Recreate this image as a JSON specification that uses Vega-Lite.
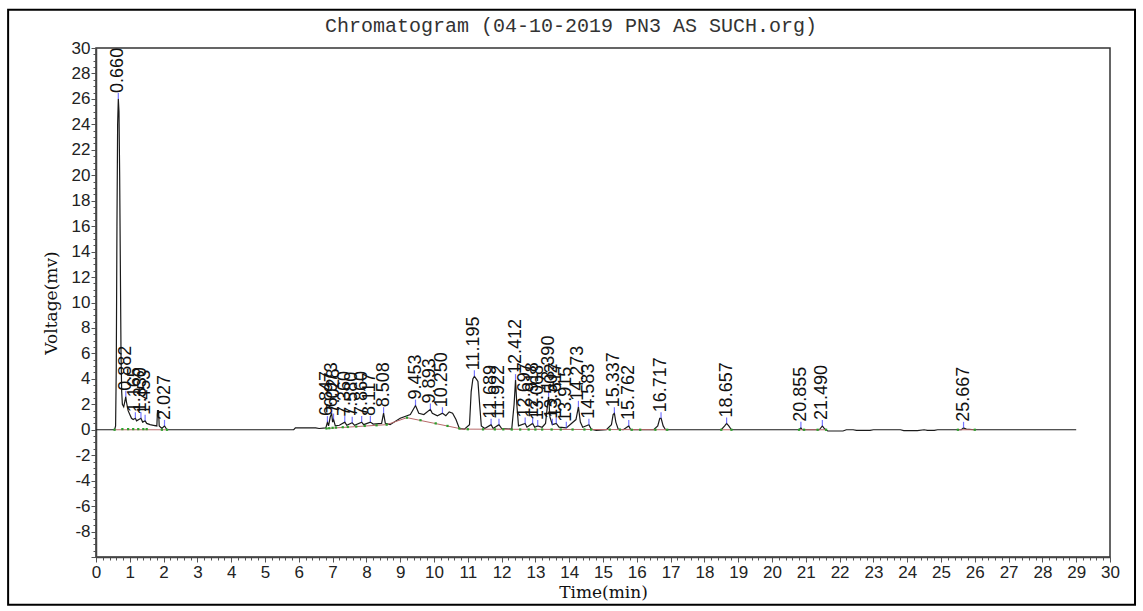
{
  "$schema": "https://vega.github.io/schema/vega-lite/v6.json",
  "width": 1014,
  "height": 509,
  "autosize": {"type": "none"},
  "padding": {"left": 96, "top": 48, "right": 33, "bottom": 54},
  "background": "white",
  "title": {
    "text": "Chromatogram (04-10-2019 PN3 AS SUCH.org)",
    "font": "Liberation Mono",
    "fontSize": 20,
    "fontWeight": "normal",
    "color": "#333",
    "dx": -32,
    "offset": -27
  },
  "config": {
    "view": {"stroke": "#333", "strokeWidth": 1.5},
    "axis": {
      "grid": false,
      "domainColor": "#444",
      "domainWidth": 1.5,
      "tickColor": "#555",
      "labelFont": "Liberation Sans",
      "labelFontSize": 17,
      "labelColor": "#222",
      "titleFont": "DejaVu Serif",
      "titleFontSize": 16,
      "titleFontWeight": "normal",
      "titleColor": "#111",
      "labelOverlap": false,
      "labelFlush": false
    }
  },
  "datasets": {
    "signal": [
      {"t": 0, "v": 0}, {"t": 0.55, "v": 0}, {"t": 0.58, "v": 0.3}, {"t": 0.6, "v": 5}, {"t": 0.62, "v": 16},
      {"t": 0.64, "v": 24}, {"t": 0.66, "v": 26}, {"t": 0.68, "v": 25}, {"t": 0.7, "v": 20}, {"t": 0.72, "v": 13},
      {"t": 0.74, "v": 6}, {"t": 0.76, "v": 3}, {"t": 0.78, "v": 2}, {"t": 0.82, "v": 1.8}, {"t": 0.86, "v": 2.3},
      {"t": 0.88, "v": 2.6}, {"t": 0.9, "v": 2.2}, {"t": 0.95, "v": 1.5}, {"t": 1.0, "v": 1.2}, {"t": 1.05, "v": 0.9},
      {"t": 1.1, "v": 0.8}, {"t": 1.165, "v": 0.9}, {"t": 1.2, "v": 0.7}, {"t": 1.33, "v": 0.9}, {"t": 1.38, "v": 0.6},
      {"t": 1.453, "v": 0.7}, {"t": 1.5, "v": 0.5}, {"t": 1.6, "v": 0.4}, {"t": 1.7, "v": 0.35}, {"t": 1.8, "v": 0.3},
      {"t": 1.82, "v": 1.5}, {"t": 1.85, "v": 1.5}, {"t": 1.87, "v": 0.3}, {"t": 1.95, "v": 0.1}, {"t": 2.027, "v": 0.3},
      {"t": 2.1, "v": 0}, {"t": 5.85, "v": 0}, {"t": 5.9, "v": 0.15}, {"t": 6.5, "v": 0.15}, {"t": 6.6, "v": 0.1},
      {"t": 6.8, "v": 0.15}, {"t": 6.847, "v": 0.6}, {"t": 6.88, "v": 0.3}, {"t": 6.93, "v": 1.0}, {"t": 6.973, "v": 1.3},
      {"t": 7.0, "v": 0.6}, {"t": 7.028, "v": 0.8}, {"t": 7.08, "v": 0.3}, {"t": 7.2, "v": 0.35}, {"t": 7.36, "v": 0.6},
      {"t": 7.42, "v": 0.35}, {"t": 7.58, "v": 0.55}, {"t": 7.65, "v": 0.35}, {"t": 7.86, "v": 0.6}, {"t": 7.92, "v": 0.4},
      {"t": 8.117, "v": 0.6}, {"t": 8.2, "v": 0.45}, {"t": 8.45, "v": 0.5}, {"t": 8.508, "v": 1.3}, {"t": 8.56, "v": 0.5},
      {"t": 8.7, "v": 0.4}, {"t": 9.0, "v": 0.9}, {"t": 9.3, "v": 1.2}, {"t": 9.453, "v": 1.9}, {"t": 9.55, "v": 1.3},
      {"t": 9.7, "v": 1.2}, {"t": 9.893, "v": 1.6}, {"t": 9.95, "v": 1.3}, {"t": 10.1, "v": 1.1}, {"t": 10.25, "v": 1.3},
      {"t": 10.35, "v": 1.1}, {"t": 10.45, "v": 1.4}, {"t": 10.55, "v": 1.3}, {"t": 10.65, "v": 0.8}, {"t": 10.75, "v": 0.1},
      {"t": 10.9, "v": 0.05}, {"t": 11.05, "v": 0.4}, {"t": 11.1, "v": 3.0}, {"t": 11.15, "v": 4.0}, {"t": 11.195, "v": 4.2},
      {"t": 11.25, "v": 4.0}, {"t": 11.3, "v": 3.8}, {"t": 11.35, "v": 2.0}, {"t": 11.4, "v": 0.3}, {"t": 11.5, "v": 0.1},
      {"t": 11.689, "v": 0.4}, {"t": 11.75, "v": 0.1}, {"t": 11.922, "v": 0.4}, {"t": 12.0, "v": 0.1}, {"t": 12.3, "v": 0.05},
      {"t": 12.37, "v": 2.0}, {"t": 12.412, "v": 3.9}, {"t": 12.45, "v": 2.0}, {"t": 12.5, "v": 0.3}, {"t": 12.697, "v": 0.5},
      {"t": 12.75, "v": 0.2}, {"t": 12.918, "v": 0.5}, {"t": 12.98, "v": 0.2}, {"t": 13.068, "v": 0.3}, {"t": 13.2, "v": 0.2},
      {"t": 13.3, "v": 0.5}, {"t": 13.36, "v": 2.0}, {"t": 13.39, "v": 2.6}, {"t": 13.43, "v": 1.0}, {"t": 13.502, "v": 0.4},
      {"t": 13.617, "v": 0.5}, {"t": 13.7, "v": 0.2}, {"t": 13.915, "v": 0.15}, {"t": 14.2, "v": 0.8}, {"t": 14.273, "v": 1.8},
      {"t": 14.33, "v": 0.6}, {"t": 14.4, "v": 0.2}, {"t": 14.583, "v": 0.4}, {"t": 14.65, "v": 0.05}, {"t": 14.8, "v": -0.05},
      {"t": 15.1, "v": 0.0}, {"t": 15.25, "v": 0.4}, {"t": 15.3, "v": 1.2}, {"t": 15.337, "v": 1.3}, {"t": 15.38, "v": 0.6},
      {"t": 15.45, "v": 0.05}, {"t": 15.6, "v": 0.0}, {"t": 15.762, "v": 0.3}, {"t": 15.82, "v": 0.0}, {"t": 16.5, "v": 0},
      {"t": 16.62, "v": 0.3}, {"t": 16.68, "v": 0.9}, {"t": 16.72, "v": 0.9}, {"t": 16.78, "v": 0.3}, {"t": 16.85, "v": 0.0},
      {"t": 18.5, "v": 0}, {"t": 18.6, "v": 0.3}, {"t": 18.657, "v": 0.5}, {"t": 18.72, "v": 0.3}, {"t": 18.8, "v": 0},
      {"t": 20.8, "v": 0}, {"t": 20.855, "v": 0.15}, {"t": 20.9, "v": 0}, {"t": 21.4, "v": 0}, {"t": 21.49, "v": 0.3},
      {"t": 21.56, "v": 0.05}, {"t": 21.65, "v": -0.1}, {"t": 22.1, "v": -0.1}, {"t": 22.2, "v": 0}, {"t": 22.4, "v": 0},
      {"t": 22.5, "v": -0.05}, {"t": 22.9, "v": -0.05}, {"t": 23.0, "v": 0}, {"t": 23.8, "v": 0}, {"t": 23.9, "v": -0.07},
      {"t": 24.3, "v": -0.07}, {"t": 24.5, "v": 0}, {"t": 24.6, "v": -0.05}, {"t": 24.8, "v": -0.05}, {"t": 24.9, "v": 0},
      {"t": 25.6, "v": 0}, {"t": 25.667, "v": 0.15}, {"t": 25.75, "v": 0.05}, {"t": 26.0, "v": 0}, {"t": 29.0, "v": 0}
    ],
    "peaks": [
      {"rt": 0.66, "h": 26.0, "label": "0.660"},
      {"rt": 0.882, "h": 2.6, "label": "0.882"},
      {"rt": 1.165, "h": 0.9, "label": "1.165"},
      {"rt": 1.33, "h": 0.9, "label": "1.330"},
      {"rt": 1.453, "h": 0.7, "label": "1.453"},
      {"rt": 2.027, "h": 0.3, "label": "2.027"},
      {"rt": 6.847, "h": 0.6, "label": "6.847"},
      {"rt": 6.973, "h": 1.3, "label": "6.973"},
      {"rt": 7.028, "h": 0.8, "label": "7.028"},
      {"rt": 7.36, "h": 0.6, "label": "7.360"},
      {"rt": 7.58, "h": 0.55, "label": "7.580"},
      {"rt": 7.86, "h": 0.6, "label": "7.860"},
      {"rt": 8.117, "h": 0.6, "label": "8.117"},
      {"rt": 8.508, "h": 1.3, "label": "8.508"},
      {"rt": 9.453, "h": 1.9, "label": "9.453"},
      {"rt": 9.893, "h": 1.6, "label": "9.893"},
      {"rt": 10.25, "h": 1.3, "label": "10.250"},
      {"rt": 11.195, "h": 4.2, "label": "11.195"},
      {"rt": 11.689, "h": 0.4, "label": "11.689"},
      {"rt": 11.922, "h": 0.4, "label": "11.922"},
      {"rt": 12.412, "h": 3.9, "label": "12.412"},
      {"rt": 12.697, "h": 0.5, "label": "12.697"},
      {"rt": 12.918, "h": 0.5, "label": "12.918"},
      {"rt": 13.068, "h": 0.3, "label": "13.068"},
      {"rt": 13.39, "h": 2.6, "label": "13.390"},
      {"rt": 13.502, "h": 0.4, "label": "13.502"},
      {"rt": 13.617, "h": 0.5, "label": "13.617"},
      {"rt": 13.915, "h": 0.15, "label": "13.915"},
      {"rt": 14.273, "h": 1.8, "label": "14.273"},
      {"rt": 14.583, "h": 0.4, "label": "14.583"},
      {"rt": 15.337, "h": 1.3, "label": "15.337"},
      {"rt": 15.762, "h": 0.3, "label": "15.762"},
      {"rt": 16.717, "h": 0.9, "label": "16.717"},
      {"rt": 18.657, "h": 0.5, "label": "18.657"},
      {"rt": 20.855, "h": 0.15, "label": "20.855"},
      {"rt": 21.49, "h": 0.3, "label": "21.490"},
      {"rt": 25.667, "h": 0.15, "label": "25.667"}
    ],
    "base": [
      {"t1": 0.55, "v1": 0, "t2": 2.1, "v2": 0},
      {"t1": 6.82, "v1": 0.1, "t2": 8.6, "v2": 0.4},
      {"t1": 8.6, "v1": 0.4, "t2": 9.2, "v2": 0.95},
      {"t1": 9.2, "v1": 0.95, "t2": 10.75, "v2": 0.1},
      {"t1": 10.75, "v1": 0.05, "t2": 16.9, "v2": 0},
      {"t1": 18.5, "v1": 0, "t2": 18.8, "v2": 0},
      {"t1": 20.8, "v1": 0, "t2": 21.6, "v2": 0},
      {"t1": 25.5, "v1": 0, "t2": 26.0, "v2": 0}
    ],
    "dots": [
      {"t": 0.55, "v": 0}, {"t": 0.78, "v": 0.05}, {"t": 0.95, "v": 0.05}, {"t": 1.1, "v": 0.05}, {"t": 1.25, "v": 0.05},
      {"t": 1.4, "v": 0.05}, {"t": 1.5, "v": 0.05}, {"t": 1.95, "v": 0}, {"t": 2.1, "v": 0},
      {"t": 6.82, "v": 0.1}, {"t": 6.9, "v": 0.12}, {"t": 7.0, "v": 0.15}, {"t": 7.1, "v": 0.17}, {"t": 7.3, "v": 0.2},
      {"t": 7.45, "v": 0.22}, {"t": 7.7, "v": 0.25}, {"t": 7.95, "v": 0.3}, {"t": 8.3, "v": 0.35}, {"t": 8.6, "v": 0.4},
      {"t": 9.2, "v": 0.95}, {"t": 9.6, "v": 0.75}, {"t": 10.05, "v": 0.5}, {"t": 10.4, "v": 0.3}, {"t": 10.75, "v": 0.1},
      {"t": 11.0, "v": 0.04}, {"t": 11.45, "v": 0.03}, {"t": 11.8, "v": 0.03}, {"t": 12.05, "v": 0.03}, {"t": 12.3, "v": 0.02},
      {"t": 12.55, "v": 0.02}, {"t": 12.8, "v": 0.02}, {"t": 13.0, "v": 0.02}, {"t": 13.2, "v": 0.02}, {"t": 13.48, "v": 0.02},
      {"t": 13.75, "v": 0.02}, {"t": 14.1, "v": 0.02}, {"t": 14.45, "v": 0.02}, {"t": 14.65, "v": 0.01}, {"t": 15.2, "v": 0.01},
      {"t": 15.5, "v": 0}, {"t": 15.85, "v": 0}, {"t": 16.1, "v": 0}, {"t": 16.55, "v": 0}, {"t": 16.9, "v": 0},
      {"t": 18.5, "v": 0}, {"t": 18.8, "v": 0}, {"t": 20.8, "v": 0}, {"t": 20.95, "v": 0}, {"t": 21.35, "v": 0},
      {"t": 21.6, "v": 0}, {"t": 25.5, "v": 0}, {"t": 26.0, "v": 0}
    ]
  },
  "layer": [
    {
      "data": {"name": "signal"},
      "mark": {"type": "line", "color": "#1a1a1a", "strokeWidth": 1.2, "interpolate": "linear"},
      "encoding": {
        "x": {"field": "t", "type": "quantitative", "scale": {"domain": [0, 30], "nice": false, "zero": false},
          "axis": {
            "title": "Time(min)",
            "titleFontSize": 17,
            "titlePadding": 4,
            "tickCount": 1000,
            "values": [0,0.2,0.4,0.6,0.8,1,1.2,1.4,1.6,1.8,2,2.2,2.4,2.6,2.8,3,3.2,3.4,3.6,3.8,4,4.2,4.4,4.6,4.8,5,5.2,5.4,5.6,5.8,6,6.2,6.4,6.6,6.8,7,7.2,7.4,7.6,7.8,8,8.2,8.4,8.6,8.8,9,9.2,9.4,9.6,9.8,10,10.2,10.4,10.6,10.8,11,11.2,11.4,11.6,11.8,12,12.2,12.4,12.6,12.8,13,13.2,13.4,13.6,13.8,14,14.2,14.4,14.6,14.8,15,15.2,15.4,15.6,15.8,16,16.2,16.4,16.6,16.8,17,17.2,17.4,17.6,17.8,18,18.2,18.4,18.6,18.8,19,19.2,19.4,19.6,19.8,20,20.2,20.4,20.6,20.8,21,21.2,21.4,21.6,21.8,22,22.2,22.4,22.6,22.8,23,23.2,23.4,23.6,23.8,24,24.2,24.4,24.6,24.8,25,25.2,25.4,25.6,25.8,26,26.2,26.4,26.6,26.8,27,27.2,27.4,27.6,27.8,28,28.2,28.4,28.6,28.8,29,29.2,29.4,29.6,29.8,30],
            "labelExpr": "abs(datum.value - round(datum.value)) < 0.001 ? '' + round(datum.value) : ''",
            "tickSize": {"condition": {"test": "abs(datum.value - round(datum.value)) < 0.001", "value": 5}, "value": 3},
            "labelPadding": 2
          }},
        "y": {"field": "v", "type": "quantitative", "scale": {"domain": [-10, 30], "nice": false, "zero": false},
          "axis": {
            "title": "Voltage(mv)",
            "titleFontSize": 17,
            "titlePadding": 11,
            "tickCount": 1000,
            "values": [-10,-9.5,-9,-8.5,-8,-7.5,-7,-6.5,-6,-5.5,-5,-4.5,-4,-3.5,-3,-2.5,-2,-1.5,-1,-0.5,0,0.5,1,1.5,2,2.5,3,3.5,4,4.5,5,5.5,6,6.5,7,7.5,8,8.5,9,9.5,10,10.5,11,11.5,12,12.5,13,13.5,14,14.5,15,15.5,16,16.5,17,17.5,18,18.5,19,19.5,20,20.5,21,21.5,22,22.5,23,23.5,24,24.5,25,25.5,26,26.5,27,27.5,28,28.5,29,29.5,30],
            "labelExpr": "(datum.value % 2 == 0 && datum.value > -10) ? '' + datum.value : ''",
            "tickSize": {"condition": {"test": "datum.value % 2 == 0", "value": 5}, "value": 3},
            "labelPadding": 1
          }}
      }
    },
    {
      "data": {"name": "base"},
      "mark": {"type": "rule", "color": "#b86a6a", "strokeWidth": 1},
      "encoding": {
        "x": {"field": "t1", "type": "quantitative"},
        "x2": {"field": "t2"},
        "y": {"field": "v1", "type": "quantitative"},
        "y2": {"field": "v2"}
      }
    },
    {
      "data": {"name": "dots"},
      "mark": {"type": "square", "color": "#2ca02c", "size": 5, "opacity": 1, "filled": true},
      "encoding": {
        "x": {"field": "t", "type": "quantitative"},
        "y": {"field": "v", "type": "quantitative"}
      }
    },
    {
      "data": {"name": "peaks"},
      "mark": {"type": "tick", "orient": "vertical", "color": "#3b3bff", "size": 6, "thickness": 1.2, "yOffset": -3},
      "encoding": {
        "x": {"field": "rt", "type": "quantitative"},
        "y": {"field": "h", "type": "quantitative"}
      }
    },
    {
      "data": {"name": "peaks"},
      "mark": {"type": "text", "angle": 270, "align": "left", "baseline": "middle", "dx": 6, "font": "Liberation Sans", "fontSize": 18, "color": "#111"},
      "encoding": {
        "x": {"field": "rt", "type": "quantitative"},
        "y": {"field": "h", "type": "quantitative"},
        "text": {"field": "label"}
      }
    },
    {
      "data": {"values": [{}]},
      "mark": {"type": "rect", "fill": null, "fillOpacity": 0, "stroke": "#000", "strokeWidth": 2, "clip": false},
      "encoding": {
        "x": {"datum": -2.6, "type": "quantitative"},
        "x2": {"datum": 30.74},
        "y": {"datum": 33.0, "type": "quantitative"},
        "y2": {"datum": -13.75}
      }
    }
  ]
}
